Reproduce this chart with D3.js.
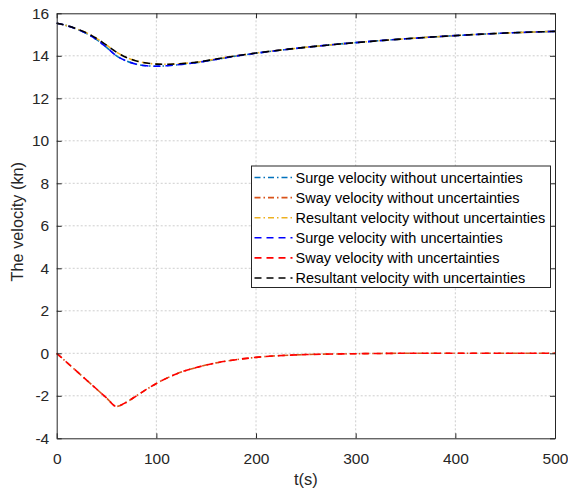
<!DOCTYPE html>
<html>
<head>
<meta charset="utf-8">
<script src="https://cdn.jsdelivr.net/npm/d3@7"></script>
<style>
  html, body { margin: 0; padding: 0; background: #fff; }
  svg { display: block; }
</style>
</head>
<body>
<svg id="chart" width="568" height="494"></svg>
<script>
// time samples (s)
const time = [0, 10, 20, 30, 40, 50, 60, 70, 80, 90, 100, 110, 120, 140, 160, 180, 200, 250, 300, 350, 400, 450, 500]

// values (kn)
const surgeWithout = [15.53, 15.42, 15.26, 15.05, 14.76, 14.40, 14.00, 13.76, 13.60, 13.53, 13.51, 13.53, 13.57, 13.68, 13.83, 13.99, 14.12, 14.40, 14.62, 14.80, 14.95, 15.07, 15.15]
const swayWithout = [0, -0.42, -0.84, -1.26, -1.68, -2.10, -2.50, -2.30, -2.00, -1.70, -1.42, -1.18, -0.97, -0.67, -0.45, -0.30, -0.19, -0.06, -0.02, 0, 0, 0, 0]
const resultantWithout = [15.53, 15.42, 15.27, 15.08, 14.82, 14.50, 14.17, 13.92, 13.76, 13.66, 13.61, 13.60, 13.62, 13.70, 13.85, 14.00, 14.13, 14.40, 14.62, 14.80, 14.95, 15.07, 15.15]
const surgeWith = [15.53, 15.42, 15.26, 15.05, 14.76, 14.40, 14.00, 13.76, 13.60, 13.53, 13.51, 13.53, 13.57, 13.68, 13.83, 13.99, 14.12, 14.40, 14.62, 14.80, 14.95, 15.07, 15.15]
const swayWith = [0, -0.42, -0.84, -1.26, -1.68, -2.10, -2.50, -2.30, -2.00, -1.70, -1.42, -1.18, -0.97, -0.67, -0.45, -0.30, -0.19, -0.06, -0.02, 0, 0, 0, 0]
const resultantWith = [15.53, 15.42, 15.27, 15.08, 14.82, 14.50, 14.17, 13.92, 13.76, 13.66, 13.61, 13.60, 13.62, 13.70, 13.85, 14.00, 14.13, 14.40, 14.62, 14.80, 14.95, 15.07, 15.15]

const xTicks = [0, 100, 200, 300, 400, 500]
const yTicks = [-4, -2, 0, 2, 4, 6, 8, 10, 12, 14, 16]

const series = [
  { label: 'Surge velocity without uncertainties', values: surgeWithout, color: '#0072bd', dash: '6,3,1.5,3' },
  { label: 'Sway velocity without uncertainties', values: swayWithout, color: '#d95319', dash: '6,3,1.5,3' },
  { label: 'Resultant velocity without uncertainties', values: resultantWithout, color: '#edb120', dash: '6,3,1.5,3' },
  { label: 'Surge velocity with uncertainties', values: surgeWith, color: '#0000ff', dash: '7,5' },
  { label: 'Sway velocity with uncertainties', values: swayWith, color: '#ff0000', dash: '7,5' },
  { label: 'Resultant velocity with uncertainties', values: resultantWith, color: '#000000', dash: '7,5' },
]

const font = 'Liberation Sans, Arial, Helvetica, sans-serif'
const margin = { top: 13.3, right: 13, bottom: 55.7, left: 56.7 }
const width = 568
const height = 494
const svg = d3.select('#chart')

const x = d3.scaleLinear().domain([0, 500]).range([margin.left, width - margin.right])
const y = d3.scaleLinear().domain([-4, 16]).range([height - margin.bottom, margin.top])
const [x0, x1] = x.range()
const [y0, y1] = y.range()

// grid
const grid = svg.append('g').attr('stroke', '#c8c8c8').attr('stroke-width', 0.9).attr('stroke-dasharray', '2,2')
grid.selectAll('.gx').data(xTicks.slice(1, -1)).join('line').attr('class', 'gx').attr('x1', (d) => x(d)).attr('x2', (d) => x(d)).attr('y1', y0).attr('y2', y1)
grid.selectAll('.gy').data(yTicks.slice(1, -1)).join('line').attr('class', 'gy').attr('x1', x0).attr('x2', x1).attr('y1', (d) => y(d)).attr('y2', (d) => y(d))

// curves
const line = d3.line().x((d) => x(d[0])).y((d) => y(d[1])).curve(d3.curveMonotoneX)
svg.append('g').attr('fill', 'none').selectAll('path').data(series).join('path')
  .attr('d', (s) => line(time.map((t, i) => [t, s.values[i]])))
  .attr('stroke', (s) => s.color)
  .attr('stroke-width', 1.6)
  .attr('stroke-dasharray', (s) => s.dash)

// axes box with inward ticks
const axisColor = '#262626'
const plain = (d) => `${d}`
const axBottom = svg.append('g').attr('transform', `translate(0,${y0})`).call(d3.axisBottom(x).tickValues(xTicks).tickFormat(plain).tickSizeInner(-5).tickSizeOuter(0).tickPadding(15))
const axLeft = svg.append('g').attr('transform', `translate(${x0},0)`).call(d3.axisLeft(y).tickValues(yTicks).tickFormat(plain).tickSizeInner(-5).tickSizeOuter(0).tickPadding(7.5))
const axTop = svg.append('g').attr('transform', `translate(0,${y1})`).call(d3.axisTop(x).tickValues(xTicks).tickSizeInner(-5).tickSizeOuter(0).tickFormat(''))
const axRight = svg.append('g').attr('transform', `translate(${x1},0)`).call(d3.axisRight(y).tickValues(yTicks).tickSizeInner(-5).tickSizeOuter(0).tickFormat(''))
for (const ax of [axBottom, axLeft, axTop, axRight]) {
  ax.select('.domain').attr('stroke', axisColor).attr('stroke-width', 1)
  ax.selectAll('.tick line').attr('stroke', axisColor)
  ax.selectAll('text').attr('fill', '#262626').attr('font-family', font).attr('font-size', 15.5)
}

svg.append('text').attr('x', (x0 + x1) / 2).attr('y', 485).attr('text-anchor', 'middle')
  .attr('font-family', font).attr('font-size', 16.5).attr('fill', '#262626').text('t(s)')
svg.append('text').attr('transform', `translate(23,221.7) rotate(-90)`).attr('text-anchor', 'middle')
  .attr('font-family', font).attr('font-size', 16.3).attr('fill', '#262626').text('The velocity (kn)')

// legend
const legend = svg.append('g').attr('transform', 'translate(251.5,166)')
legend.append('rect').attr('width', 299).attr('height', 121.5).attr('fill', '#fff').attr('stroke', axisColor).attr('stroke-width', 1)
const rows = legend.selectAll('g').data(series).join('g').attr('transform', (s, i) => `translate(0,${11.5 + i * 20.1})`)
rows.append('line').attr('x1', 3).attr('x2', 41).attr('y1', 0).attr('y2', 0)
  .attr('stroke', (s) => s.color).attr('stroke-width', 1.6).attr('stroke-dasharray', (s) => s.dash)
rows.append('text').attr('x', 44).attr('y', 5).attr('font-family', font).attr('font-size', 14.5).attr('fill', '#000').text((s) => s.label)
</script>
</body>
</html>
